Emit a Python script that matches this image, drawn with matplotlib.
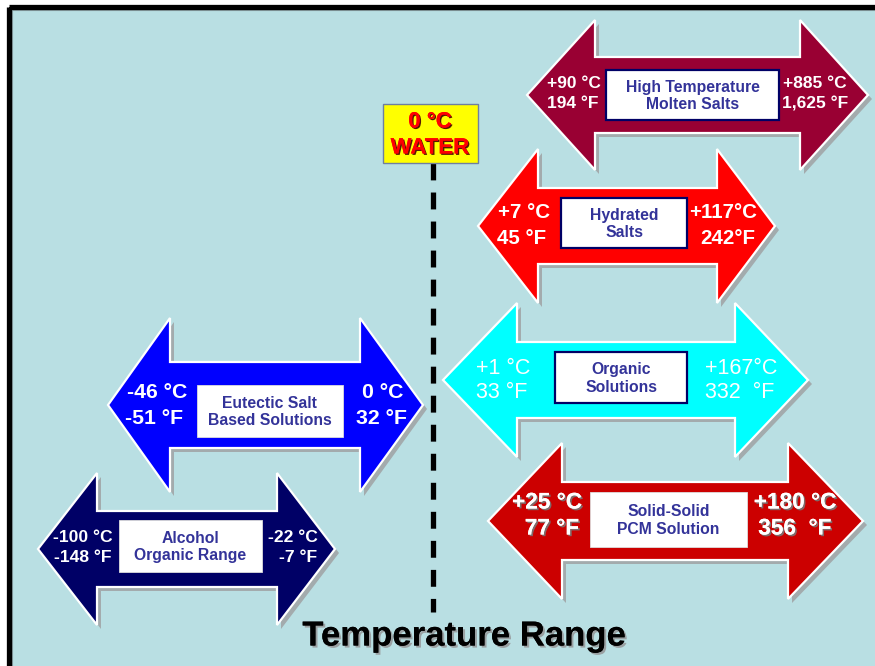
import matplotlib
matplotlib.use("Agg")
import matplotlib.pyplot as plt
from matplotlib.patches import Polygon, Rectangle
import matplotlib.patheffects as pe

plt.rcParams['font.family'] = ['Liberation Sans', 'DejaVu Sans']

# ---- data ----
categories = ["High Temperature\nMolten Salts", "Hydrated\nSalts", "Organic\nSolutions",
              "Solid-Solid\nPCM Solution", "Eutectic Salt\nBased Solutions", "Alcohol\nOrganic Range"]
low_c = ["+90 \u00b0C", "+7 \u00b0C", "+1 \u00b0C", "+25 \u00b0C", "-46 \u00b0C", "-100 \u00b0C"]
low_f = ["194 \u00b0F", "45 \u00b0F", "33 \u00b0F", "77 \u00b0F", "-51 \u00b0F", "-148 \u00b0F"]
high_c = ["+885 \u00b0C", "+117\u00b0C", "+167\u00b0C", "+180 \u00b0C", "0 \u00b0C", "-22 \u00b0C"]
high_f = ["1,625 \u00b0F", "242\u00b0F", "332  \u00b0F", "356  \u00b0F", "32 \u00b0F", "-7 \u00b0F"]
water_label = "0 \u00b0C\nWATER"
title = "Temperature Range"

# ---- layout / style ----
# x0, x1, cy, shaft half, head half, head len left, head len right
geom = [(527, 868, 95, 38, 75, 68, 68),
        (478, 775, 226, 38, 77, 60, 58),
        (443, 808, 380, 38, 77, 74, 73),
        (488, 863, 521, 39, 78, 74, 75),
        (108, 423, 405, 43, 87, 62, 63),
        (38, 335, 549, 38, 76, 59, 58)]
colors = ["#990033", "#FF0000", "#00FFFF", "#CC0000", "#0000FF", "#000066"]
boxes = [(606, 70, 779, 120, True), (561, 198, 687, 248, True), (555, 352, 687, 403, True),
         (590, 492, 747, 547, False), (197, 385, 343, 437, False), (119, 520, 262, 572, False)]
# (lx_c, lx_f, rx_c, rx_f, yc, yf, size, weight, shadow)
lab = [(574, 573, 815, 815, 84, 104, 12.5, 'bold', False),
       (524, 522, 723, 728, 212, 238, 14.8, 'bold', False),
       (503, 502, 741, 740, 368, 393, 15.5, 'normal', False),
       (547, 552, 795, 795, 502, 528, 16.3, 'bold', True),
       (157, 154, 383, 382, 392, 418, 15.3, 'bold', False),
       (83, 83, 293, 298, 538, 558, 12.6, 'bold', False)]

bg = "#B9DFE3"
shadow = "#A3ABAD"

fig = plt.figure(figsize=(8.75, 6.66), dpi=100)
ax = fig.add_axes([0, 0, 1, 1])
ax.set_xlim(0, 875)
ax.set_ylim(666, 0)
ax.axis('off')
fig.patch.set_facecolor('white')

# background and frame
ax.add_patch(Rectangle((8.5, 6.5), 900, 700, facecolor=bg, edgecolor='none', zorder=0))
ax.add_patch(Rectangle((12, 10), 900, 700, facecolor='none', edgecolor='#8FA5A8', lw=0.8, zorder=0.5))
ax.add_patch(Rectangle((8.5, 6.5), 900, 700, facecolor='none', edgecolor='black', lw=3.8,
                       joinstyle='round', zorder=10))


def arrow_pts(x0, x1, cy, sh, hh, hl, hr):
    return [(x0, cy), (x0 + hl, cy - hh), (x0 + hl, cy - sh), (x1 - hr, cy - sh),
            (x1 - hr, cy - hh), (x1, cy), (x1 - hr, cy + hh), (x1 - hr, cy + sh),
            (x0 + hl, cy + sh), (x0 + hl, cy + hh)]


txt_shadow = [pe.withSimplePatchShadow(offset=(1.2, -1.2), shadow_rgbFace='#777777', alpha=0.9), pe.Normal()]

for i, cat in enumerate(categories):
    z = 2 + i
    pts = arrow_pts(*geom[i])
    sp = [(x + 4, y + 4) for x, y in pts]
    ax.add_patch(Polygon(sp, closed=True, facecolor=shadow, edgecolor='none', zorder=z))
    ax.add_patch(Polygon(pts, closed=True, facecolor=colors[i], edgecolor='white', lw=1.6,
                         joinstyle='miter', zorder=z + 0.1))
    bx0, by0, bx1, by1, border = boxes[i]
    ax.add_patch(Rectangle((bx0, by0), bx1 - bx0, by1 - by0, facecolor='white',
                           edgecolor='#000066' if border else '#DDDDDD', lw=1.6 if border else 0.6,
                           zorder=z + 0.2))
    ax.text((bx0 + bx1) / 2, (by0 + by1) / 2 + 1, cat, ha='center', va='center', color='#333399',
            fontsize=11.3, fontweight='bold', linespacing=1.2, zorder=z + 0.3)
    lxc, lxf, rxc, rxf, yc, yf, fs, fw, sh = lab[i]
    kw = dict(ha='center', va='center', color='white', fontsize=fs, fontweight=fw, zorder=z + 0.3)
    if sh:
        kw['path_effects'] = txt_shadow
    ax.text(lxc, yc, low_c[i], **kw)
    ax.text(lxf, yf, low_f[i], **kw)
    ax.text(rxc, yc, high_c[i], **kw)
    ax.text(rxf, yf, high_f[i], **kw)

# water marker
ax.plot([433, 433], [163, 612], color='black', lw=3.8, dashes=(3.2, 2.3), zorder=1.5,
        solid_capstyle='butt', dash_capstyle='butt')
ax.add_patch(Rectangle((383, 104), 95, 59, facecolor='#FFFF00', edgecolor='#6F7FA0', lw=1.0, zorder=9))
w1, w2 = water_label.split("\n")
wshadow = [pe.withSimplePatchShadow(offset=(1.0, -1.0), shadow_rgbFace='#440000', alpha=0.9), pe.Normal()]
ax.text(430, 122, w1, ha='center', va='center', color='#FF0000', fontsize=16, fontweight='bold',
        zorder=9.5, path_effects=wshadow)
ax.text(430, 148, w2, ha='center', va='center', color='#FF0000', fontsize=16, fontweight='bold',
        zorder=9.5, path_effects=wshadow)

# title
ax.text(464, 636, title, ha='center', va='center', color='black', fontsize=25, fontweight='bold',
        zorder=9, path_effects=[pe.withSimplePatchShadow(offset=(1.5, -1.5), shadow_rgbFace='#9AA0A2', alpha=1),
                                pe.Normal()])

fig.savefig("out.png", dpi=100, facecolor='white')
